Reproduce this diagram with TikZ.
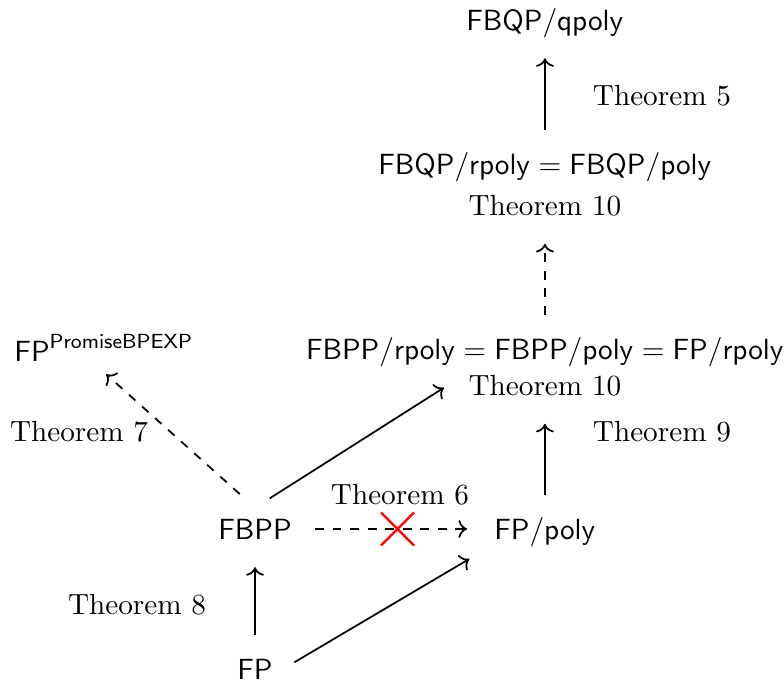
\documentclass[tikz,border=0pt]{standalone}
\usepackage{amsmath}
\usepackage{tikz}
\usetikzlibrary{arrows,arrows.meta,positioning,shapes.misc,calc}
\tikzstyle{cls} = [text height=7.5pt, text depth=0pt, anchor=base]
\tikzstyle{thm} = [anchor=base]
\tikzstyle{imp} = [->, semithick, shorten <=4.5pt, shorten >=5.8pt]
\tikzstyle{nimp} = [imp, dashed]
\tikzstyle{nope} = [draw=red, thick, cross out, minimum size=10.5pt, inner sep=0pt]
\newcommand{\cl}[1]{\mathsf{#1}}

\begin{document}
\begin{tikzpicture}
    \useasboundingbox (0,0) rectangle (9.435,8.327);
    % Classes
    \node[cls] (fp) at (3.069,0.144) {$\cl{FP}$};
    \node[cls] (fbpp) at (3.069,1.829) {$\cl{FBPP}$};
    \node[cls] (fppoly) at (6.558,1.829) {$\cl{FP}/\cl{poly}$};
    \node[cls] (promise) at (1.251,3.971) {$\cl{FP}^{\cl{PromiseBPEXP}}$};
    \node[cls] (eqrpoly) at (6.558,3.995) {$\cl{FBPP}/\cl{rpoly} = \cl{FBPP}/\cl{poly} = \cl{FP}/\cl{rpoly}$};
    \node[cls] (fbqp) at (6.558,6.221) {$\cl{FBQP}/\cl{rpoly} = \cl{FBQP}/\cl{poly}$};
    \node[cls] (qpoly) at (6.558,7.954) {$\cl{FBQP}/\cl{qpoly}$};
    % Theorem labels
    \node[thm] (t10a) at (6.558,5.728) {Theorem 10};
    \node[thm] (t10b) at (6.558,3.562) {Theorem 10};
    \node[thm] (t5) at (7.966,7.052) {Theorem 5};
    \node[thm] (t9) at (7.966,3.008) {Theorem 9};
    \node[thm] (t7) at (0.951,3.008) {Theorem 7};
    \node[thm] (t6) at (4.813,2.250) {Theorem 6};
    \node[thm] (t8) at (1.649,0.927) {Theorem 8};
    % Arrows
    \draw[imp] (fp.north) -- (fbpp.south);
    \draw[imp] (fp.east) -- (fppoly.south west);
    \draw[imp, shorten <=6pt] (fbpp.north) -- (t10b.175);
    \draw[nimp, shorten <=7pt, shorten >=1pt] (fbpp.north) -- (promise.south);
    \draw[nimp] (fbpp.east) -- (fppoly.west);
    \node[nope] (cross) at ($(fbpp.east)!0.525!(fppoly.west)$) {};
    \draw[imp] (fppoly.north) -- (t10b.south);
    \draw[nimp] (eqrpoly.north) -- (t10a.south);
    \draw[imp] (fbqp.north) -- (qpoly.south);
\end{tikzpicture}
\end{document}
